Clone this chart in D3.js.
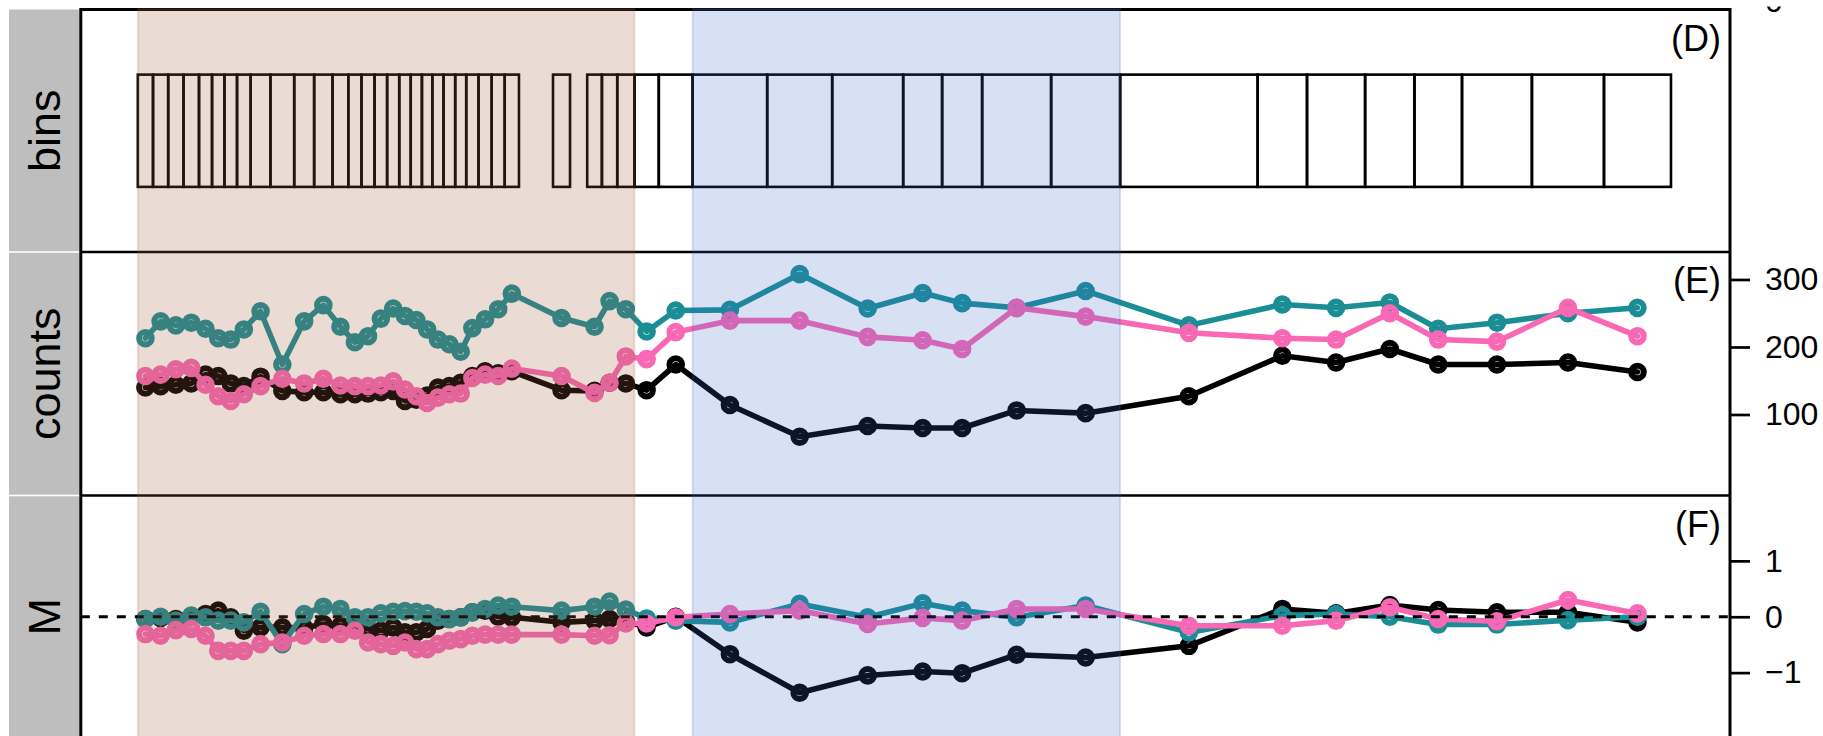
<!DOCTYPE html>
<html>
<head>
<meta charset="utf-8">
<script src="https://cdn.jsdelivr.net/npm/d3@7"></script>
<style>
  html, body { margin: 0; padding: 0; background: #fff; overflow: hidden; }
  svg { display: block; }
</style>
</head>
<body>
<svg id="chart" width="1823" height="736"></svg>
<script>
// Bin boundaries along the region (Mb from the first bin)
const binStart = [0, 0.99, 1.98, 2.98, 3.99, 4.84, 5.65, 6.47, 7.36, 8.65, 10.20, 11.50, 12.70, 13.73,
  14.59, 15.44, 16.26, 17.05, 17.80, 18.53, 19.21, 19.94, 20.70, 21.42, 22.22, 23.08, 23.93,
  27.08, 29.31, 30.27, 31.27, 32.39, 33.98, 36.19, 41.05, 45.29, 49.92, 52.46, 55.07, 59.57,
  64.07, 73.04, 76.26, 80.05, 83.27, 86.37, 90.93, 95.63];
const binEnd = [0.99, 1.98, 2.98, 3.99, 4.84, 5.65, 6.47, 7.36, 8.65, 10.20, 11.50, 12.70, 13.73, 14.59,
  15.44, 16.26, 17.05, 17.80, 18.53, 19.21, 19.94, 20.70, 21.42, 22.22, 23.08, 23.93, 24.86,
  28.19, 30.27, 31.27, 32.39, 33.98, 36.19, 41.05, 45.29, 49.92, 52.46, 55.07, 59.57, 64.07,
  73.04, 76.26, 80.05, 83.27, 86.37, 90.93, 95.63, 100];

// Read counts per bin for the three samples
const countsBlack = [140, 142, 144, 146, 159, 157, 146, 142, 156, 135, 133, 133, 130, 130, 131, 133, 135, 120, 122, 128,
  140, 142, 147, 157, 164, 161, 164, 136, 135, 147, 146, 136, 174, 114, 67, 83, 80, 80, 106, 102,
  127, 187, 177, 197, 174, 174, 177, 163];
const countsTeal = [213, 238, 232, 236, 227, 213, 211, 226, 253, 174, 238, 262, 230, 207, 216, 242, 257, 246, 240, 226,
  211, 204, 193, 228, 241, 256, 279, 243, 230, 268, 256, 223, 254, 255, 308, 257, 280, 265, 258, 283,
  232, 263, 258, 266, 227, 236, 250, 258];
const countsPink = [157, 159, 167, 169, 144, 127, 120, 130, 142, 153, 146, 153, 143, 142, 142, 143, 149, 137, 127, 117,
  125, 130, 131, 154, 159, 157, 168, 157, 132, 147, 186, 182, 222, 239, 239, 215, 210, 197, 258, 245,
  221, 213, 211, 250, 211, 208, 258, 216];

// Normalised log-ratio per bin
const mBlack = [-0.04, -0.02, -0.04, 0, 0.05, 0.11, -0.01, -0.25, -0.19, -0.19, -0.2, -0.13, -0.16, -0.19, -0.22, -0.25,
  -0.19, -0.28, -0.28, -0.22, -0.07, -0.04, -0.01, 0.08, 0.11, 0, -0.01, -0.1, -0.07, -0.04, -0.08, -0.19, 0,
  -0.67, -1.36, -1.05, -0.98, -1.01, -0.68, -0.73, -0.52, 0.14, 0.06, 0.21, 0.12, 0.08, 0.08, -0.1];
const mTeal = [-0.04, 0, -0.07, 0.02, -0.01, -0.07, -0.07, -0.1, 0.09, -0.49, 0.05, 0.18, 0.14, -0.01, -0.01, 0.06,
  0.09, 0.1, 0.09, 0.06, -0.01, -0.04, -0.01, 0.08, 0.14, 0.2, 0.18, 0.11, 0.18, 0.27, 0.13, -0.03, -0.07,
  -0.1, 0.23, -0.01, 0.24, 0.11, -0.01, 0.2, -0.28, 0.02, 0.05, 0, -0.14, -0.14, -0.06, 0];
const mPink = [-0.31, -0.34, -0.24, -0.22, -0.34, -0.61, -0.61, -0.61, -0.49, -0.46, -0.34, -0.31, -0.31, -0.25, -0.46,
  -0.49, -0.52, -0.46, -0.58, -0.58, -0.49, -0.43, -0.4, -0.34, -0.32, -0.32, -0.32, -0.32, -0.34, -0.33,
  -0.12, -0.12, -0.01, 0.05, 0.11, -0.13, -0.02, -0.07, 0.14, 0.14, -0.16, -0.16, -0.07, 0.17, -0.04, -0.08, 0.3, 0.06];

// Highlighted stretches (Mb)
const regionStart = [0, 36.19];
const regionEnd = [32.39, 64.07];

// Panel text
const panelNames = ["bins", "counts", "M"];
const panelTags = ["(D)", "(E)", "(F)"];
const countTicks = [100, 200, 300];
const mTicks = [-1, 0, 1];
const aboveLabels = ["0"];

// ---- layout ----
const W = 1823, H = 736;
const frameL = 80.8, frameR = 1730;
const panelTop = [9.5, 252, 495.5];
const panelBot = [252, 495.5, 738];
const stripL = 9, stripR = 79.5;

const svg = d3.select("#chart");
const font = "'Liberation Sans', Arial, Helvetica, sans-serif";

const x = d3.scaleLinear().domain([-3.72, 103.85]).range([frameL, frameR]);
const yBins = d3.scaleLinear().domain([-0.04, 1.04]).range([panelBot[0], panelTop[0]]);
const yCounts = d3.scaleLinear().domain([-20, 340.7]).range([panelBot[1], panelTop[1]]);
const yM = d3.scaleLinear().domain([-2.17, 2.17]).range([panelBot[2], panelTop[2]]);

const bins = binStart.map((s, i) => ({ s, e: binEnd[i], c: (s + binEnd[i]) / 2 }));

// gray side strips with names
panelNames.forEach((name, i) => {
  const t = panelTop[i] + (i === 0 ? 0 : 0.8), b = panelBot[i] - 0.8;
  svg.append("rect").attr("x", stripL).attr("y", t).attr("width", stripR - stripL)
    .attr("height", Math.min(b, H + 5) - t).attr("fill", "#bebebe");
  const cy = (panelTop[i] + Math.min(panelBot[i], 738)) / 2;
  svg.append("text").attr("transform", `translate(60,${cy}) rotate(-90)`)
    .attr("text-anchor", "middle").attr("font-family", font).attr("font-size", 45)
    .attr("fill", "#000").text(name);
});

// bins panel: one rectangle per bin
svg.append("g").selectAll("rect").data(bins).join("rect")
  .attr("x", d => x(d.s)).attr("width", d => x(d.e) - x(d.s))
  .attr("y", yBins(0.75)).attr("height", yBins(0.25) - yBins(0.75))
  .attr("fill", "none").attr("stroke", "#000").attr("stroke-width", 2.6);

// series lines with open circle markers
const seriesColors = { black: "#000000", teal: "#1a8e94", pink: "#f868b4" };
function drawSeries(values, yScale, color) {
  const g = svg.append("g");
  const pts = bins.map((b, i) => [x(b.c), yScale(values[i])]);
  g.append("path").attr("d", d3.line()(pts)).attr("fill", "none")
    .attr("stroke", color).attr("stroke-width", 5.6)
    .attr("stroke-linejoin", "round").attr("stroke-linecap", "round");
  g.selectAll("circle").data(pts).join("circle")
    .attr("cx", d => d[0]).attr("cy", d => d[1]).attr("r", 6.3)
    .attr("fill", "none").attr("stroke", color).attr("stroke-width", 6);
}
drawSeries(countsBlack, yCounts, seriesColors.black);
drawSeries(countsTeal, yCounts, seriesColors.teal);
drawSeries(countsPink, yCounts, seriesColors.pink);
drawSeries(mBlack, yM, seriesColors.black);
drawSeries(mTeal, yM, seriesColors.teal);
drawSeries(mPink, yM, seriesColors.pink);

// zero reference in the M panel
svg.append("line").attr("x1", frameL).attr("x2", frameR).attr("y1", yM(0)).attr("y2", yM(0))
  .attr("stroke", "#000").attr("stroke-width", 3).attr("stroke-dasharray", "9,9");

// panel frames
svg.append("path")
  .attr("d", `M${frameL},${H + 5}V${panelTop[0]}H${frameR}V${H + 5}`)
  .attr("fill", "none").attr("stroke", "#000").attr("stroke-width", 3);
[panelBot[0], panelBot[1]].forEach(yy => {
  svg.append("line").attr("x1", frameL).attr("x2", frameR).attr("y1", yy).attr("y2", yy)
    .attr("stroke", "#000").attr("stroke-width", 2.7);
});

// right-hand axes
function rightAxis(scale, ticks, fmt) {
  const g = svg.append("g").attr("transform", `translate(${frameR},0)`);
  const ax = d3.axisRight(scale).tickValues(ticks).tickSize(20).tickPadding(15).tickFormat(fmt);
  g.call(ax);
  g.select(".domain").remove();
  g.selectAll(".tick line").attr("stroke", "#000").attr("stroke-width", 2.7);
  g.selectAll(".tick text").attr("font-family", font).attr("font-size", 32).attr("fill", "#000");
}
rightAxis(yCounts, countTicks, d3.format("d"));
rightAxis(yM, mTicks, d => d < 0 ? "\u2212" + Math.abs(d) : String(d));

// label left over from the panel above, only its lower edge shows
svg.append("clipPath").attr("id", "aboveClip")
  .append("rect").attr("x", 1740).attr("y", 6.5).attr("width", 83).attr("height", 20);
svg.append("g").attr("clip-path", "url(#aboveClip)")
  .selectAll("text").data(aboveLabels).join("text")
  .attr("x", 1765).attr("y", 11.5).attr("font-family", font).attr("font-size", 32).text(d => d);

// panel tags
panelTags.forEach((t, i) => {
  svg.append("text").attr("x", 1721).attr("y", panelTop[i] + 41)
    .attr("text-anchor", "end").attr("font-family", font).attr("font-size", 36).text(t);
});

// highlighted stretches, laid over everything
const regionFill = ["rgb(160,90,60)", "rgb(60,100,200)"];
regionStart.forEach((s, i) => {
  svg.append("rect").attr("x", x(s)).attr("y", 9).attr("width", x(regionEnd[i]) - x(s))
    .attr("height", H)
    .attr("fill", regionFill[i]).attr("fill-opacity", i === 0 ? 0.22 : 0.2)
    .attr("stroke", regionFill[i]).attr("stroke-opacity", 0.18).attr("stroke-width", 2);
});
</script>
</body>
</html>
